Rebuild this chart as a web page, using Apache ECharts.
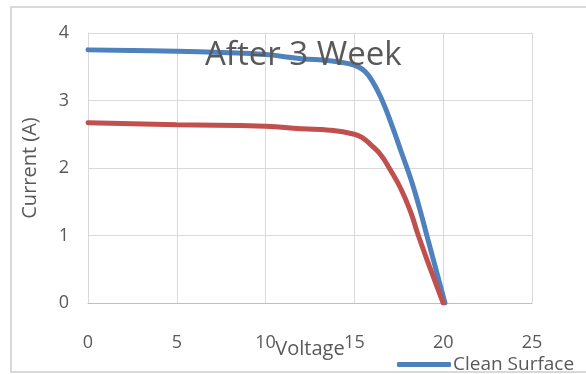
<!DOCTYPE html>
<html>
<head>
<meta charset="utf-8">
<script src="https://cdn.jsdelivr.net/npm/echarts@6/dist/echarts.min.js"></script>
<style>
  html, body { margin: 0; padding: 0; background: #fff; }
  #chart { width: 586px; height: 374px; }
</style>
</head>
<body>
<div id="chart"></div>
<script>
// values
var cleanVoltage = [0, 2.5, 5, 7.5, 10, 12, 13.6, 14.6, 15.2, 15.6, 16.0, 16.5, 17.1, 17.65, 18.2, 18.65, 19.1, 20.1];
var cleanCurrent = [3.75, 3.74, 3.73, 3.71, 3.68, 3.62, 3.59, 3.55, 3.50, 3.43, 3.29, 3.04, 2.64, 2.23, 1.82, 1.42, 0.98, 0];
var dirtyVoltage = [0, 5, 10, 12, 13.6, 15, 15.5, 15.9, 16.5, 17, 17.6, 18.15, 18.6, 19.3, 20.0];
var dirtyCurrent = [2.67, 2.64, 2.62, 2.58, 2.56, 2.50, 2.44, 2.35, 2.19, 1.98, 1.70, 1.36, 1.0, 0.49, 0];
var xTicks = [0, 5, 10, 15, 20, 25];
var yTicks = [0, 1, 2, 3, 4];

function pairs(xs, ys) {
    var out = [];
    for (var i = 0; i < xs.length; i++) out.push([xs[i], ys[i]]);
    return out;
}

var txt = '#595959';
var font = 'Open Sans';

var myChart = echarts.init(document.getElementById('chart'));
var option = {
    animation: false,
    textStyle: { fontFamily: font, color: txt },
    title: {
        text: 'After 3 Week',
        left: 200,
        top: 34,
        textStyle: { fontFamily: font, fontSize: 33, fontWeight: 'normal', color: txt }
    },
    graphic: [{
        type: 'rect',
        z: -10,
        shape: { x: 11, y: 7, width: 600, height: 365 },
        style: { fill: 'none', stroke: '#d9d9d9', lineWidth: 2 }
    }],
    legend: {
        data: ['Clean Surface'],
        left: 392,
        top: 350,
        icon: 'roundRect',
        itemWidth: 54,
        itemHeight: 5,
        itemGap: 10,
        textStyle: { fontFamily: font, fontSize: 19, color: txt, padding: [0, 0, 0, -3] }
    },
    grid: {
        left: 88,
        right: 54,
        top: 33,
        bottom: 71,
        outerBoundsMode: 'none'
    },
    xAxis: {
        type: 'value',
        min: xTicks[0],
        max: xTicks[xTicks.length - 1],
        interval: 5,
        name: 'Voltage',
        nameLocation: 'middle',
        nameGap: 36,
        nameMoveOverlap: false,
        nameTextStyle: { fontFamily: font, fontSize: 20, color: txt },
        axisLine: { show: true, onZero: false, lineStyle: { color: '#bfbfbf', width: 1 } },
        axisTick: { show: false },
        axisLabel: { fontFamily: font, fontSize: 18, color: txt, margin: 31 },
        splitLine: { show: true, lineStyle: { color: '#d9d9d9', width: 1 } }
    },
    yAxis: {
        type: 'value',
        min: yTicks[0],
        max: yTicks[yTicks.length - 1],
        interval: 1,
        name: 'Current (A)',
        nameLocation: 'middle',
        nameGap: 48,
        nameMoveOverlap: false,
        nameTextStyle: { fontFamily: font, fontSize: 20, color: txt },
        axisLine: { show: true, lineStyle: { color: '#d9d9d9', width: 1 } },
        axisTick: { show: false },
        axisLabel: { fontFamily: font, fontSize: 18, color: txt, margin: 19 },
        splitLine: { show: true, lineStyle: { color: '#d9d9d9', width: 1 } }
    },
    series: [{
        name: 'Clean Surface',
        type: 'line',
        smooth: 0.5,
        showSymbol: false,
        data: pairs(cleanVoltage, cleanCurrent),
        itemStyle: { color: '#4f81bd' },
        lineStyle: { color: '#4f81bd', width: 5, cap: 'round' },
        z: 2
    }, {
        name: 'Dirty Surface',
        type: 'line',
        smooth: 0.5,
        showSymbol: false,
        data: pairs(dirtyVoltage, dirtyCurrent),
        itemStyle: { color: '#c0504d' },
        lineStyle: { color: '#c0504d', width: 5, cap: 'round' },
        z: 3
    }]
};

option && myChart.setOption(option);
</script>
</body>
</html>
